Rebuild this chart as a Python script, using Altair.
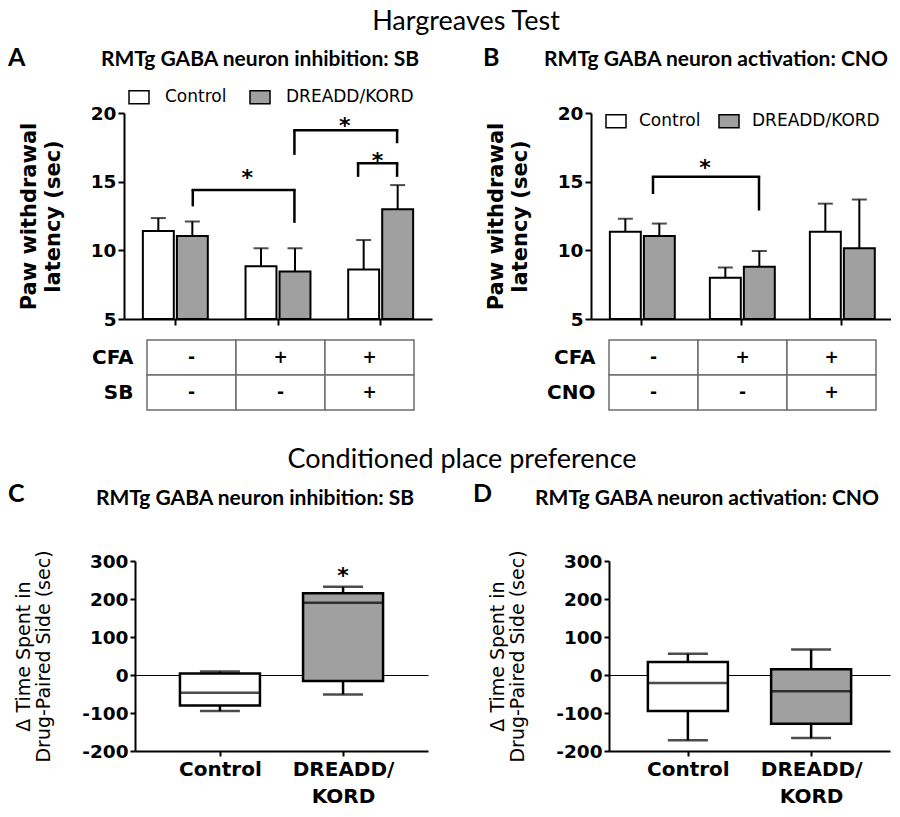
import altair as alt
import pandas as pd

# ---------------- data ----------------
GROUPS = ["1", "2", "3"]
SERIES = ["Control", "DREADD/KORD"]
FILLS = ["#ffffff", "#a0a0a0"]

# Panel A – Hargreaves, RMTg GABA inhibition (SB)
a_ctrl_mean = [11.4, 8.85, 8.6]
a_ctrl_sem = [0.95, 1.3, 2.15]
a_drd_mean = [11.05, 8.45, 13.0]
a_drd_sem = [1.05, 1.7, 1.75]
# significance brackets (x in group units, y in sec)
a_br_x1 = [0.67, 1.66, 2.28]
a_br_x2 = [1.66, 2.66, 2.66]
a_br_y1 = [13.2, 16.95, 15.35]
a_br_top = [14.4, 18.75, 16.35]
a_br_y2 = [12.0, 17.8, 15.35]
a_star_x = [1.2, 2.15, 2.47]
a_star_y = [15.8, 19.55, 17.0]

# Panel B – Hargreaves, RMTg GABA activation (CNO)
b_ctrl_mean = [11.35, 8.0, 11.35]
b_ctrl_sem = [0.95, 0.75, 2.05]
b_drd_mean = [11.05, 8.8, 10.15]
b_drd_sem = [0.9, 1.15, 3.55]
b_br_x1 = [0.62]
b_br_x2 = [1.68]
b_br_y1 = [14.1]
b_br_top = [15.35]
b_br_y2 = [12.9]
b_star_x = [1.14]
b_star_y = [16.5]

# tables
ta_rows = ["CFA", "SB"]
tb_rows = ["CFA", "CNO"]
t_row1 = ["-", "+", "+"]
t_row2 = ["-", "-", "+"]

# Panel C / D – CPP box plots
c_lo = [-95, -51]
c_q1 = [-80, -16]
c_med = [-47, 190]
c_q3 = [4, 215]
c_hi = [9, 232]
c_star_y = [280]

d_lo = [-172, -166]
d_q1 = [-95, -128]
d_med = [-21, -43]
d_q3 = [34, 15]
d_hi = [56, 67]

AX = dict(domainColor="black", domainWidth=2, tickColor="black", tickWidth=2,
          labelColor="black", titleColor="black")


def ann(text, x, y, font="Lato", size=21, weight="bold", align="center"):
    return alt.Chart(pd.DataFrame({"t": [text]})).mark_text(
        font=font, fontSize=size, fontWeight=weight, align=align,
        baseline="middle", color="black"
    ).encode(text="t:N", x=alt.value(x), y=alt.value(y))


def bar_panel(cm, cs, dm, ds, bx1, bx2, by1, btop, by2, sx, sy, width,
              po, lx, ly, loff, lcol, anns):
    df = pd.DataFrame({
        "group": GROUPS * 2,
        "series": [SERIES[0]] * 3 + [SERIES[1]] * 3,
        "mean": cm + dm,
        "sem": cs + ds,
    })
    xax = alt.Axis(title=None, labels=False, tickSize=6, bandPosition=0.5,
                   grid=False, **AX)
    x = alt.X("group:N", scale=alt.Scale(domain=GROUPS, paddingInner=0,
                                         paddingOuter=0), axis=xax)
    xo = alt.XOffset("series:N", scale=alt.Scale(domain=SERIES,
                                                 paddingInner=0.09,
                                                 paddingOuter=po))
    ys = alt.Scale(domain=[5, 20], nice=False, zero=False)
    yax = alt.Axis(values=[5, 10, 15, 20],
                   title=["Paw withdrawal", "latency (sec)"],
                   tickSize=6, labelPadding=2, grid=False,
                   labelFont="DejaVu Sans", labelFontWeight="bold",
                   labelFontSize=18.5, titleFont="DejaVu Sans",
                   titleFontWeight="bold", titleFontSize=21,
                   titleLineHeight=24, titlePadding=27, **AX)
    base = alt.Chart(df).transform_calculate(hi="datum.mean + datum.sem")
    bars = base.mark_bar(stroke="black", strokeWidth=2).encode(
        x=x, xOffset=xo,
        y=alt.Y("mean:Q", scale=ys, axis=yax),
        y2=alt.datum(5),
        fill=alt.Fill("series:N", scale=alt.Scale(domain=SERIES, range=FILLS),
                      legend=alt.Legend(
                          title=None, orient="none", legendX=lx, legendY=ly,
                          direction="horizontal",
                          symbolType="M-1,-0.65H1V0.65H-1Z", symbolSize=400,
                          symbolStrokeColor="black", symbolStrokeWidth=1.5,
                          symbolOpacity=1,
                          labelFont="DejaVu Sans", labelFontSize=17,
                          labelColor="black", labelOffset=loff,
                          columnPadding=lcol, padding=0)),
    )
    err = base.mark_rule(color="black", strokeWidth=2).encode(
        x=x, xOffset=xo, y=alt.Y("mean:Q", scale=ys, axis=yax), y2="hi:Q")
    cap = base.mark_tick(color="black", size=15, thickness=2).encode(
        x=x, xOffset=xo, y=alt.Y("hi:Q", scale=ys, axis=yax))
    inner = alt.layer(bars, err, cap)

    bdf = pd.DataFrame({"x1": bx1, "x2": bx2, "y1": by1, "top": btop, "y2": by2})
    sdf = pd.DataFrame({"sx": sx, "sy": sy, "s": ["*"] * len(sx)})
    qx = alt.Scale(domain=[0, 3], nice=False, zero=False)
    top = alt.Chart(bdf).mark_rule(color="black", strokeWidth=2.5, strokeCap="square").encode(
        x=alt.X("x1:Q", scale=qx, axis=None), x2="x2:Q",
        y=alt.Y("top:Q", scale=ys, axis=yax))
    leg1 = alt.Chart(bdf).mark_rule(color="black", strokeWidth=2.5).encode(
        x=alt.X("x1:Q", scale=qx, axis=None),
        y=alt.Y("y1:Q", scale=ys, axis=yax), y2="top:Q")
    leg2 = alt.Chart(bdf).mark_rule(color="black", strokeWidth=2.5).encode(
        x=alt.X("x2:Q", scale=qx, axis=None),
        y=alt.Y("y2:Q", scale=ys, axis=yax), y2="top:Q")
    stars = alt.Chart(sdf).mark_text(font="DejaVu Sans", fontWeight="bold",
                                     fontSize=22, dy=7, color="black").encode(
        x=alt.X("sx:Q", scale=qx, axis=None),
        y=alt.Y("sy:Q", scale=ys, axis=yax), text="s:N")
    annot = alt.layer(top, leg1, leg2, stars)
    return alt.layer(inner, annot, *anns).resolve_scale(x="independent").properties(
        width=width, height=206)


def table_panel(rows, width, left, height):
    df = pd.DataFrame({
        "col": [0, 1, 2] * 2,
        "row": [rows[0]] * 3 + [rows[1]] * 3,
        "sym": t_row1 + t_row2,
    })
    x = alt.X("col:O", scale=alt.Scale(domain=[0, 1, 2], range=[left, width],
                                       paddingInner=0, paddingOuter=0), axis=None)
    y = alt.Y("row:N", scale=alt.Scale(domain=rows, range=[0, 70],
                                       paddingInner=0, paddingOuter=0),
              axis=alt.Axis(title=None, domain=False, ticks=False, labelPadding=14,
                            offset=-left, labelFont="DejaVu Sans",
                            labelFontWeight="bold", labelFontSize=20,
                            labelColor="black", grid=False))
    cells = alt.Chart(df).mark_rect(fill="white", stroke="#6e6e6e",
                                    strokeWidth=1.5).encode(x=x, y=y)
    syms = alt.Chart(df).mark_text(font="DejaVu Sans", fontWeight="bold",
                                   fontSize=17, color="black").encode(
        x=x, y=y, text="sym:N")
    return alt.layer(cells, syms).properties(width=width, height=height)


def box_panel(lo, q1, med, q3, hi, width, pad, rng, yoff, star_y, anns):
    df = pd.DataFrame({"grp": SERIES, "lo": lo, "q1": q1, "med": med,
                       "q3": q3, "hi": hi})
    xax = alt.Axis(title=None, grid=False, labelAngle=0,
                   labelExpr="datum.value == 'DREADD/KORD' ? ['DREADD/', 'KORD'] : datum.label",
                   labelFont="DejaVu Sans", labelFontWeight="bold",
                   labelFontSize=20, labelLineHeight=27, labelPadding=3,
                   labelBaseline="top", tickSize=5, **AX)
    x = alt.X("grp:N", scale=alt.Scale(type="point", domain=SERIES,
                                       padding=pad, range=rng), axis=xax)
    ys = alt.Scale(domain=[-200, 300], nice=False, zero=False)
    yax = alt.Axis(values=[-200, -100, 0, 100, 200, 300],
                   labelExpr="'' + datum.value",
                   title=["\u0394 Time Spent in", "Drug-Paired Side (sec)"],
                   offset=yoff, tickSize=5, labelPadding=2,
                   labelFont="DejaVu Sans", labelFontWeight="bold",
                   labelFontSize=18.5, titleFont="DejaVu Sans",
                   titleFontWeight="normal", titleFontSize=19,
                   titleLineHeight=20, titlePadding=28,
                   grid=True, gridColor="black", gridWidth=1,
                   gridOpacity={"condition": {"test": "datum.value === 0", "value": 1},
                                "value": 0},
                   **AX)
    base = alt.Chart(df)
    whisk = base.mark_rule(color="black", strokeWidth=2.5).encode(
        x=x, y=alt.Y("lo:Q", scale=ys, axis=yax), y2="hi:Q")
    box = base.mark_bar(width=80, stroke="black", strokeWidth=2.5).encode(
        x=x, y=alt.Y("q1:Q", scale=ys, axis=yax), y2="q3:Q",
        fill=alt.Fill("grp:N", scale=alt.Scale(domain=SERIES, range=FILLS),
                      legend=None))
    medl = base.mark_tick(color="black", size=80, thickness=2.5).encode(
        x=x, y=alt.Y("med:Q", scale=ys, axis=yax))
    caps = base.transform_fold(["lo", "hi"], as_=["k", "v"]).mark_tick(
        color="black", size=40, thickness=2.5).encode(
        x=x, y=alt.Y("v:Q", scale=ys, axis=yax))
    layers = [whisk, box, medl, caps]
    if star_y:
        sdf = pd.DataFrame({"grp": [SERIES[1]] * len(star_y), "sy": star_y,
                            "s": ["*"] * len(star_y)})
        layers.append(alt.Chart(sdf).mark_text(
            font="DejaVu Sans", fontWeight="bold", fontSize=22, dy=7,
            color="black").encode(x=x, y=alt.Y("sy:Q", scale=ys, axis=yax),
                                  text="s:N"))
    return alt.layer(*layers, *anns).properties(width=width, height=190)


A = bar_panel(a_ctrl_mean, a_ctrl_sem, a_drd_mean, a_drd_sem,
              a_br_x1, a_br_x2, a_br_y1, a_br_top, a_br_y2,
              a_star_x, a_star_y, 308, 0.555, 4, -27, 15, 20,
              [ann("A", -116, -55, size=25, align="left"),
               ann("RMTg GABA neuron inhibition: SB", 136, -53),
               ann("Hargreaves Test", 342, -91, size=27, weight="normal")])
B = bar_panel(b_ctrl_mean, b_ctrl_sem, b_drd_mean, b_drd_sem,
              b_br_x1, b_br_x2, b_br_y1, b_br_top, b_br_y2,
              b_star_x, b_star_y, 300, 0.515, 14, -3, 12, 15,
              [ann("B", -108, -55, size=25, align="left"),
               ann("RMTg GABA neuron activation: CNO", 125, -53)])

TA = table_panel(ta_rows, 290, 23, 200)
TB = table_panel(tb_rows, 285, 18, 200)

C = box_panel(c_lo, c_q1, c_med, c_q3, c_hi, 304, 0.69, [11, 304], -11, c_star_y,
              [ann("C", -116, -67, size=25, align="left"),
               ann("RMTg GABA neuron inhibition: SB", 131, -62),
               ann("Conditioned place preference", 338, -101, size=27,
                   weight="normal")])
D = box_panel(d_lo, d_q1, d_med, d_q3, d_hi, 299, 0.64, [18, 299], -18, [],
              [ann("D", -118, -67, size=25, align="left"),
               ann("RMTg GABA neuron activation: CNO", 116, -62)])

chart = alt.concat(
    A, B, TA, TB, C, D, columns=2,
    spacing={"row": 21, "column": 159}, bounds="flush"
).resolve_scale(fill="independent").resolve_legend(fill="independent").properties(
    padding={"left": 0, "top": 0, "right": 0, "bottom": 0}
).configure_view(stroke=None)

chart.save("out.html", embed_options={"renderer": "svg", "actions": False})
